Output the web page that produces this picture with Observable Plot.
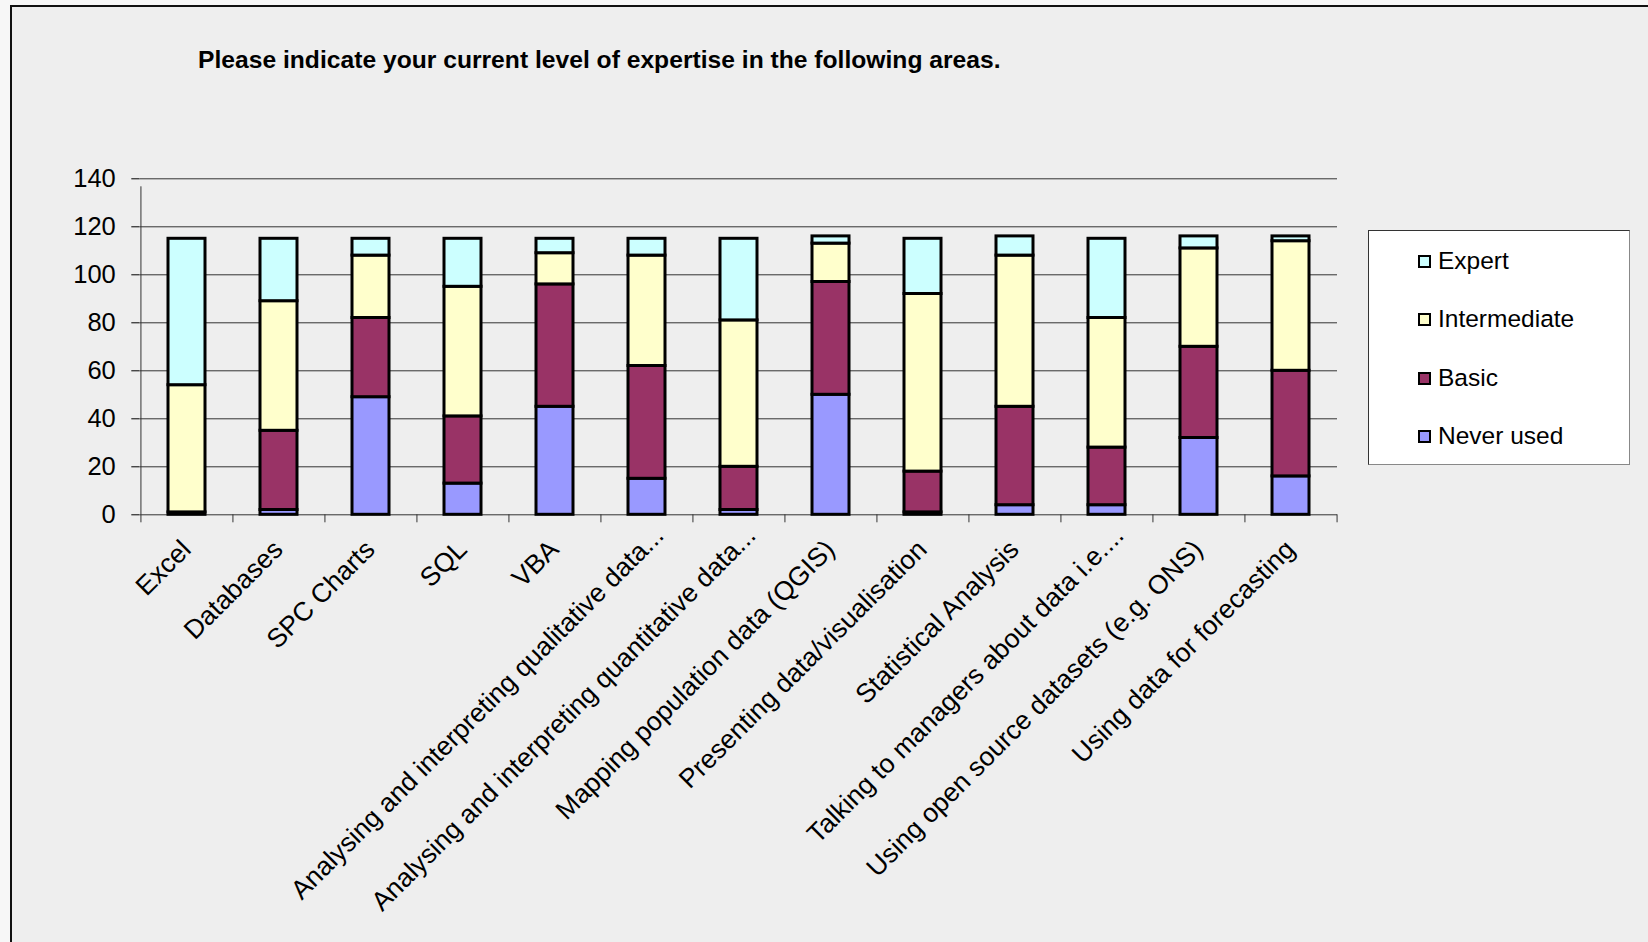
<!DOCTYPE html>
<html>
<head>
<meta charset="utf-8">
<script src="https://cdn.jsdelivr.net/npm/d3@7"></script>
<script src="https://cdn.jsdelivr.net/npm/@observablehq/plot@0.6"></script>
<style>
  html, body { margin: 0; padding: 0; background: #f7f7f7; }
  #page { position: relative; width: 1648px; height: 942px; overflow: hidden; font-family: "Liberation Sans", Arial, sans-serif; }
  #panel { position: absolute; left: 10px; top: 5px; right: -4px; bottom: -4px; background: #eeeeee; border-top: 2px solid #111; border-left: 2px solid #111; }
  #title { position: absolute; left: 198px; top: 46px; font-weight: bold; font-size: 24px; white-space: nowrap; transform-origin: 0 0; color: #000; }
  #chart { position: absolute; left: 0; top: 0; }
  #legend { position: absolute; left: 1368px; top: 230px; width: 260px; height: 233px; background: #fff; border: 1px solid #333; border-right-color: #888; border-bottom-color: #888; }
  .item { position: absolute; left: 49px; height: 28px; display: flex; align-items: center; font-size: 24.5px; color: #000; }
  .sw { width: 9px; height: 9px; border: 2px solid #000; margin-right: 7px; }
</style>
</head>
<body>
<div id="page">
  <div id="panel"></div>
  <div id="chart"></div>
  <div id="title">Please indicate your current level of expertise in the following areas.</div>
  <div id="legend"></div>
</div>
<script>
// ---- data ----
const categories = [
  "Excel",
  "Databases",
  "SPC Charts",
  "SQL",
  "VBA",
  "Analysing and interpreting qualitative data...",
  "Analysing and interpreting quantitative data...",
  "Mapping population data (QGIS)",
  "Presenting data/visualisation",
  "Statistical Analysis",
  "Talking to managers about data i.e....",
  "Using open source datasets (e.g. ONS)",
  "Using data for forecasting"
];
const levels = ["Never used", "Basic", "Intermediate", "Expert"];
const neverUsed    = [0, 2, 49, 13, 45, 15, 2, 50, 1, 4, 4, 32, 16];
const basic        = [1, 33, 33, 28, 51, 47, 18, 47, 17, 41, 24, 38, 44];
const intermediate = [53, 54, 26, 54, 13, 46, 61, 16, 74, 63, 54, 41, 54];
const expert       = [61, 26, 7, 20, 6, 7, 34, 3, 23, 8, 33, 5, 2];
const levelColors  = ["#9999ff", "#993366", "#ffffcc", "#ccffff"];
const yTicks = [0, 20, 40, 60, 80, 100, 120, 140];
const legendOrder = ["Expert", "Intermediate", "Basic", "Never used"];

// ---- build table ----
const series = [neverUsed, basic, intermediate, expert];
const rows = [];
levels.forEach((lev, li) => {
  categories.forEach((c, ci) => rows.push({category: c, level: lev, value: series[li][ci]}));
});
const truncated = categories.filter(c => c.endsWith("..."));
const plain = categories.filter(c => !c.endsWith("..."));

// ---- layout ----
const W = 1648, H = 942;
const ml = 139.3, mr = 311, mt = 178.3, mb = 427.7;
const xOpts = {type: "band", domain: categories, paddingInner: 0.6, paddingOuter: 0.3};
const xs = Plot.scale({x: {...xOpts, range: [ml, W - mr]}});
const step = xs.step ?? (W - ml - mr) / categories.length;
const font = "'Liberation Sans', Arial, sans-serif";
const labelOpts = {x: d => d, frameAnchor: "bottom", text: d => d, rotate: -45, textAnchor: "end", lineAnchor: "top", fontSize: 26.5, fill: "#000"};

const chart = Plot.plot({
  width: W, height: H,
  marginLeft: ml, marginRight: mr, marginTop: mt, marginBottom: mb,
  style: {background: "transparent", fontFamily: font, fontSize: "25.5px", color: "#000", overflow: "visible"},
  x: {...xOpts, axis: null},
  y: {domain: [0, 140], ticks: yTicks, tickSize: 8, tickPadding: 16, label: null},
  color: {domain: levels, range: levelColors},
  marks: [
    Plot.ruleY(yTicks.slice(1), {stroke: "#333", strokeWidth: 1}),
    Plot.ruleX(categories, {x: d => d, y1: 0, y2: 0, insetBottom: -8, dx: -step / 2, stroke: "#333"}),
    Plot.ruleX([categories[categories.length - 1]], {x: d => d, y1: 0, y2: 0, insetBottom: -8, dx: step / 2, stroke: "#333"}),
    Plot.ruleX([categories[0]], {x: d => d, y1: 0, y2: 140, insetBottom: -8, dx: -step / 2, stroke: "#333"}),
    Plot.ruleY([0], {stroke: "#333"}),
    Plot.barY(rows, {x: "category", y: "value", fill: "level", stroke: "#000", strokeWidth: 3}),
    Plot.text(plain, {...labelOpts, dx: -8, dy: 23}),
    Plot.text(truncated, {...labelOpts, dx: 5, dy: 9})
  ]
});
document.getElementById("chart").appendChild(chart);

// ---- legend ----
const legend = document.getElementById("legend");
const rowTops = [16, 74, 133, 191];
legendOrder.forEach((lev, i) => {
  const it = document.createElement("div");
  it.className = "item";
  it.style.top = rowTops[i] + "px";
  const sw = document.createElement("span");
  sw.className = "sw";
  sw.style.background = levelColors[levels.indexOf(lev)];
  const tx = document.createElement("span");
  tx.textContent = lev;
  it.appendChild(sw); it.appendChild(tx);
  legend.appendChild(it);
});

// ---- title condense ----
const t = document.getElementById("title");
const tw = t.offsetWidth;
if (tw > 0) t.style.transform = `scaleX(${803 / tw})`;
</script>
</body>
</html>
